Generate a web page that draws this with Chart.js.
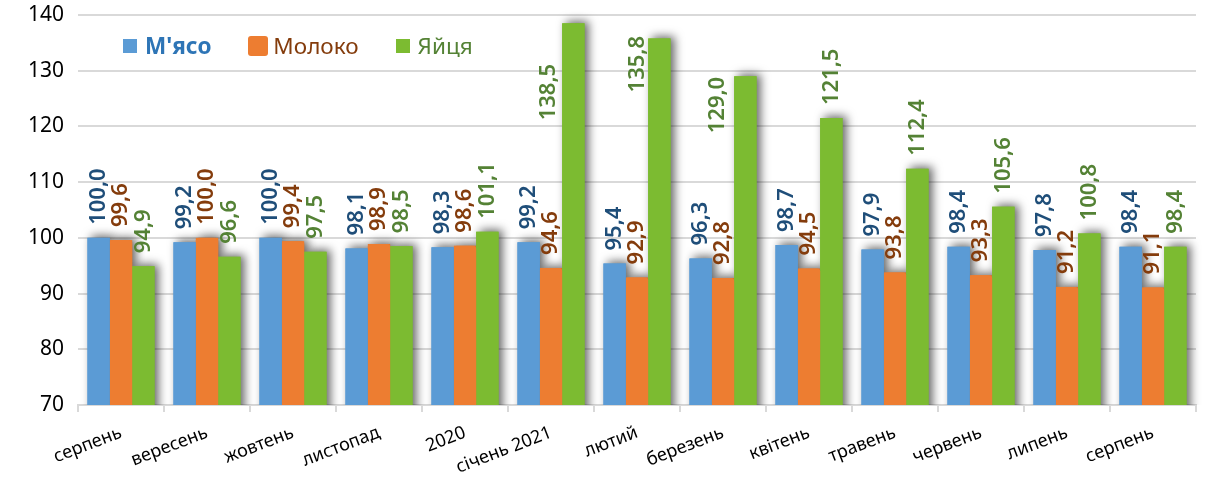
<!DOCTYPE html>
<html>
<head>
<meta charset="utf-8">
<script src="https://cdn.jsdelivr.net/npm/chart.js@4.4.1/dist/chart.umd.min.js"></script>
<style>
  html, body { margin: 0; padding: 0; background: #fff; }
  #wrap { position: relative; width: 1205px; height: 479px; }
  #legend { position: absolute; left: 123px; top: 30px; display: flex; align-items: center; font-family: "Noto Sans", sans-serif; font-size: 22.5px; }
  #legend .item { display: flex; align-items: center; margin-right: 37px; }
  #legend .box { width: 14px; height: 14px; margin-right: 8px; }
</style>
</head>
<body>
<div id="wrap">
  <canvas id="chart" width="1205" height="479"></canvas>
  <div id="legend"></div>
</div>
<script>
const categories = ["серпень", "вересень", "жовтень", "листопад", "2020", "січень 2021", "лютий", "березень", "квітень", "травень", "червень", "липень", "серпень"]
const meat = [100.0, 99.2, 100.0, 98.1, 98.3, 99.2, 95.4, 96.3, 98.7, 97.9, 98.4, 97.8, 98.4]
const milk = [99.6, 100.0, 99.4, 98.9, 98.6, 94.6, 92.9, 92.8, 94.5, 93.8, 93.3, 91.2, 91.1]
const eggs = [94.9, 96.6, 97.5, 98.5, 101.1, 138.5, 135.8, 129.0, 121.5, 112.4, 105.6, 100.8, 98.4]
const yTicks = [70, 80, 90, 100, 110, 120, 130, 140]

const seriesNames = ["М'ясо", "Молоко", "Яйця"]
const barColors = ["#5B9BD5", "#ED7D31", "#7CBB31"]
const labelColors = ["#1F4E79", "#843C0C", "#548235"]
const legendColors = ["#2E75B6", "#843C0C", "#548235"]

// labels that were moved by hand in the original (dataset, index) -> pixel shift
const labelShift = { "2-5": [-25, 110], "2-6": [-22, 67], "2-7": [-28, 70] }

const FONT = "'Noto Sans', sans-serif"

// legend
const legendEl = document.getElementById("legend")
seriesNames.forEach((name, i) => {
  const item = document.createElement("div")
  item.className = "item"
  const box = document.createElement("div")
  box.className = "box"
  box.style.background = barColors[i]
  if (i === 1) { box.style.width = "20px"; box.style.height = "20px"; box.style.borderRadius = "3px"; box.style.marginRight = "5px" }
  const txt = document.createElement("span")
  txt.textContent = name
  txt.style.color = legendColors[i]
  if (i === 0) txt.style.fontWeight = "bold"
  item.appendChild(box)
  item.appendChild(txt)
  legendEl.appendChild(item)
})

// soft shadow behind every bar
const barShadow = {
  id: "barShadow",
  beforeDatasetsDraw(chart) {
    const ctx = chart.ctx
    const area = chart.chartArea
    ctx.save()
    ctx.beginPath()
    ctx.rect(area.left, area.top - 20, area.right - area.left + 20, area.bottom - area.top + 20)
    ctx.clip()
    chart.data.datasets.forEach((ds, di) => {
      chart.getDatasetMeta(di).data.forEach(bar => {
        const w = bar.width
        ctx.save()
        ctx.shadowColor = "rgba(0,0,0,0.6)"
        ctx.shadowBlur = 10
        ctx.shadowOffsetX = 4
        ctx.shadowOffsetY = -2
        ctx.fillStyle = ds.backgroundColor
        ctx.fillRect(bar.x - w / 2, bar.y, w, bar.base - bar.y)
        ctx.restore()
      })
    })
    ctx.restore()
  }
}

// vertical value labels + the little orange foot under the axis
const valueLabels = {
  id: "valueLabels",
  afterDatasetsDraw(chart) {
    const ctx = chart.ctx
    ctx.save()
    ctx.fillStyle = barColors[1]
    chart.getDatasetMeta(1).data.forEach(bar => {
      ctx.fillRect(bar.x - bar.width / 2 + 2, bar.base + 1, bar.width - 4, 2)
    })
    ctx.font = "600 22px " + FONT
    ctx.textAlign = "left"
    ctx.textBaseline = "middle"
    chart.data.datasets.forEach((ds, di) => {
      ctx.fillStyle = labelColors[di]
      chart.getDatasetMeta(di).data.forEach((bar, i) => {
        const shift = labelShift[di + "-" + i] || [0, 0]
        const txt = ds.data[i].toFixed(1).replace(".", ",")
        ctx.save()
        ctx.translate(bar.x + shift[0], bar.y - 13 + shift[1])
        ctx.rotate(-Math.PI / 2)
        ctx.fillText(txt, 0, 0)
        ctx.restore()
      })
    })
    ctx.restore()
  }
}

function noPad(scale) {
  scale.paddingTop = 0
  scale.paddingBottom = 0
  scale.paddingLeft = 0
  scale.paddingRight = 0
}

new Chart(document.getElementById("chart"), {
  type: "bar",
  data: {
    labels: categories,
    datasets: [meat, milk, eggs].map((values, i) => ({
      label: seriesNames[i],
      data: values,
      backgroundColor: barColors[i],
      borderWidth: 0,
      borderRadius: i === 1 ? { topLeft: 3, topRight: 3 } : 0,
      categoryPercentage: 0.78,
      barPercentage: 1.0,
    })),
  },
  options: {
    responsive: false,
    animation: false,
    layout: { padding: { top: 15, right: 9, left: 0, bottom: 0 } },
    scales: {
      y: {
        min: 70,
        max: 140,
        afterBuildTicks(scale) { scale.ticks = yTicks.map(v => ({ value: v })) },
        afterFit(scale) { scale.width = 78; noPad(scale) },
        border: { display: false },
        grid: { color: "#d9d9d9", lineWidth: 2, drawTicks: false },
        ticks: { color: "#000", padding: 14, font: { family: FONT, size: 21 } },
      },
      x: {
        afterFit(scale) { scale.height = 74; noPad(scale) },
        border: { display: true, color: "#d9d9d9", width: 2 },
        grid: { offset: true, drawOnChartArea: false, drawTicks: true, tickLength: 7, color: "#d9d9d9", lineWidth: 2 },
        ticks: { color: "#000", minRotation: 21, maxRotation: 21, padding: 10, font: { family: FONT, size: 18 } },
      },
    },
    plugins: {
      legend: { display: false },
      tooltip: { enabled: false },
    },
  },
  plugins: [barShadow, valueLabels],
})
</script>
</body>
</html>
